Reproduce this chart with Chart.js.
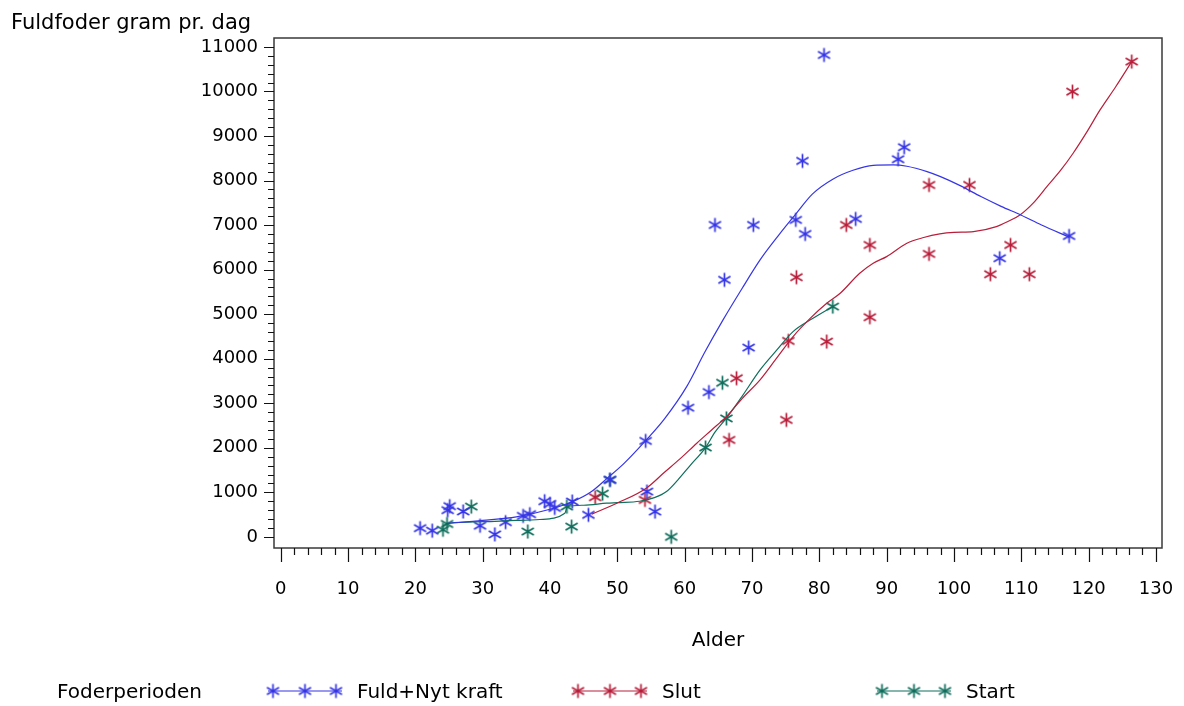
<!DOCTYPE html>
<html>
<head>
<meta charset="utf-8">
<title>Fuldfoder gram pr. dag</title>
<script src="https://cdn.jsdelivr.net/npm/chart.js"></script>
<style>
  body { margin: 0; background: #fff; }
  #wrap { width: 1184px; height: 706px; }
</style>
</head>
<body>
<div id="wrap"><canvas id="chart" width="1184" height="706"></canvas></div>
<script>
// observed points (alder, gram/dag)
const fuldX = [20.7, 22.5, 24.8, 25.1, 27.1, 29.6, 31.8, 33.4, 36.0, 37.0, 39.2, 40.0, 40.7, 43.3, 45.7, 48.9, 54.4, 55.6, 54.2, 60.5, 63.6, 64.5, 65.9, 69.5, 70.2, 76.5, 77.5, 77.9, 80.7, 85.4, 91.7, 92.6, 106.8, 117.1];
const fuldY = [195, 140, 600, 690, 570, 250, 55, 330, 470, 510, 800, 740, 650, 793, 494, 1280, 1017, 568, 2155, 2900, 3250, 7003, 5770, 4250, 7003, 7116, 8440, 6800, 10819, 7138, 8478, 8748, 6256, 6756];

const slutX = [46.7, 54.1, 66.6, 67.7, 75.1, 75.4, 76.6, 81.1, 84.0, 87.5, 87.5, 96.3, 96.3, 102.3, 105.4, 108.4, 111.2, 117.6, 126.4];
const slutY = [890, 830, 2177, 3562, 2626, 4400, 5829, 4384, 7003, 6554, 4931, 7901, 6352, 7901, 5896, 6554, 5896, 9996, 10670];

const startX = [24.1, 24.7, 28.3, 36.7, 42.5, 43.2, 47.8, 48.9, 58.0, 63.1, 65.6, 66.2, 82.0];
const startY = [160, 290, 680, 120, 680, 230, 970, 1280, 0, 2005, 3460, 2660, 5170];

// smoothed curves
const fuldCurveX = [24.6, 30, 35, 40, 43.4, 46, 48.6, 51, 54.3, 57, 60.3, 63, 65.7, 68.5, 71.2, 74, 76.4, 79, 82, 85, 88, 91, 93, 96, 98, 101, 104, 107, 110, 113, 117.1];
const fuldCurveY = [300, 370, 450, 620, 793, 1000, 1330, 1650, 2177, 2650, 3374, 4150, 4871, 5570, 6218, 6780, 7228, 7700, 8030, 8230, 8340, 8350, 8320, 8200, 8088, 7880, 7640, 7420, 7220, 7000, 6730];

const slutCurveX = [46.2, 50, 54.3, 57, 59.3, 61.8, 64, 66.2, 68.5, 71.2, 73.6, 76.1, 78.6, 81.1, 83.1, 86, 88, 90, 93, 95.5, 97.9, 100, 102.9, 106.3, 108, 109.8, 111.8, 113.8, 115.8, 117.7, 119.7, 121.7, 124, 126.4];
const slutCurveY = [510, 760, 1093, 1450, 1750, 2103, 2400, 2700, 3100, 3524, 4000, 4496, 4900, 5245, 5470, 5919, 6144, 6292, 6592, 6720, 6801, 6835, 6853, 6965, 7080, 7228, 7500, 7863, 8220, 8613, 9080, 9585, 10100, 10670];

const startCurveX = [24.1, 25.1, 30, 35, 38.5, 42.2, 42.6, 45, 48.4, 50, 53.3, 55.5, 57.3, 59, 60.8, 63.1, 64.5, 66.2, 68.5, 71.2, 73.6, 76.1, 79, 82];
const startCurveY = [250, 307, 340, 370, 390, 530, 680, 710, 756, 770, 800, 880, 1017, 1280, 1600, 2005, 2350, 2664, 3150, 3749, 4180, 4608, 4900, 5170];

const xTicks = [0, 10, 20, 30, 40, 50, 60, 70, 80, 90, 100, 110, 120, 130];
const yTicks = [0, 1000, 2000, 3000, 4000, 5000, 6000, 7000, 8000, 9000, 10000, 11000];

const groups = ['Fuld+Nyt kraft', 'Slut', 'Start'];
const colors = ['#3535e6', '#b81e3a', '#0f6e5c'];

const FONT = 'DejaVu Sans';

function pairs(xs, ys) {
    return xs.map((x, i) => ({ x: x, y: ys[i] }));
}

// SAS style asterisk marker
function makeStar(color) {
    const c = document.createElement('canvas');
    c.width = 17;
    c.height = 17;
    const g = c.getContext('2d');
    g.strokeStyle = color;
    g.lineWidth = 1.7;
    g.beginPath();
    [90, 30, -30].forEach(function(a) {
        const r = 7, rad = a * Math.PI / 180;
        g.moveTo(8.5 + r * Math.cos(rad), 8.5 - r * Math.sin(rad));
        g.lineTo(8.5 - r * Math.cos(rad), 8.5 + r * Math.sin(rad));
    });
    g.stroke();
    return c;
}
const stars = colors.map(makeStar);

function pointSet(label, xs, ys, i) {
    return {
        label: label,
        data: pairs(xs, ys),
        showLine: false,
        pointStyle: stars[i],
        pointRadius: 8,
        borderColor: colors[i],
        backgroundColor: colors[i]
    };
}

function curveSet(label, xs, ys, i) {
    return {
        label: label,
        data: pairs(xs, ys),
        showLine: true,
        pointRadius: 0,
        borderColor: colors[i],
        borderWidth: 1.2,
        cubicInterpolationMode: 'monotone',
        fill: false
    };
}

// frame, minor ticks, y title and legend
const decor = {
    id: 'decor',
    afterDraw(chart) {
        const ctx = chart.ctx;
        const a = chart.chartArea;
        const xs = chart.scales.x, ys = chart.scales.y;
        ctx.save();
        ctx.strokeStyle = '#3a3a3a';
        ctx.lineWidth = 1.5;
        ctx.strokeRect(a.left, a.top, a.right - a.left, a.bottom - a.top);

        ctx.lineWidth = 1.2;
        ctx.strokeStyle = '#111';
        ctx.beginPath();
        for (let v = 0; v <= 130; v += 2) {
            const px = Math.round(xs.getPixelForValue(v)) + 0.5;
            const len = v % 10 === 0 ? 14 : 7;
            ctx.moveTo(px, a.bottom);
            ctx.lineTo(px, a.bottom + len);
        }
        for (let v = 0; v <= 11000; v += 200) {
            const py = Math.round(ys.getPixelForValue(v)) + 0.5;
            const len = v % 1000 === 0 ? 10 : 6;
            ctx.moveTo(a.left, py);
            ctx.lineTo(a.left - len, py);
        }
        ctx.stroke();

        ctx.fillStyle = '#000';
        ctx.textBaseline = 'alphabetic';
        ctx.textAlign = 'left';
        ctx.font = '21px "' + FONT + '"';
        ctx.fillText('Fuldfoder gram pr. dag', 11, 29);

        // legend
        ctx.font = '20px "' + FONT + '"';
        const ly = 691;
        ctx.fillText('Foderperioden', 57, ly + 7);
        const starts = [268, 573, 877];
        groups.forEach(function(name, i) {
            const x0 = starts[i];
            ctx.strokeStyle = colors[i];
            ctx.lineWidth = 1.2;
            ctx.beginPath();
            ctx.moveTo(x0, ly);
            ctx.lineTo(x0 + 74, ly);
            ctx.stroke();
            [5, 37, 68].forEach(function(dx) {
                ctx.drawImage(stars[i], x0 + dx - 8.5, ly - 8.5);
            });
            ctx.fillStyle = '#000';
            ctx.fillText(name, x0 + 89, ly + 7);
        });
        ctx.restore();
    }
};

const chart = new Chart(document.getElementById('chart'), {
    type: 'scatter',
    data: {
        datasets: [
            curveSet('Fuld+Nyt kraft kurve', fuldCurveX, fuldCurveY, 0),
            curveSet('Slut kurve', slutCurveX, slutCurveY, 1),
            curveSet('Start kurve', startCurveX, startCurveY, 2),
            pointSet(groups[0], fuldX, fuldY, 0),
            pointSet(groups[1], slutX, slutY, 1),
            pointSet(groups[2], startX, startY, 2)
        ]
    },
    options: {
        responsive: false,
        animation: false,
        events: [],
        layout: { padding: { top: 38, right: 22, left: 0, bottom: 0 } },
        plugins: {
            legend: { display: false },
            tooltip: { enabled: false }
        },
        scales: {
            x: {
                type: 'linear',
                min: -1,
                max: 130.9,
                afterFit: function(s) {
                    s.height = 158;
                    s.paddingLeft = 0;
                    s.paddingRight = 0;
                },
                afterBuildTicks: function(s) { s.ticks = xTicks.map(v => ({ value: v })); },
                grid: { display: false },
                border: { display: false },
                ticks: {
                    padding: 23,
                    maxRotation: 0,
                    autoSkip: false,
                    color: '#000',
                    font: { family: FONT, size: 18 },
                    callback: v => String(v)
                },
                title: {
                    display: true,
                    text: 'Alder',
                    color: '#000',
                    font: { family: FONT, size: 20 },
                    padding: { top: 0, bottom: 53 }
                }
            },
            y: {
                type: 'linear',
                min: -250,
                max: 11200,
                afterFit: function(s) {
                    s.width = 274;
                    s.paddingTop = 0;
                    s.paddingBottom = 0;
                },
                afterBuildTicks: function(s) { s.ticks = yTicks.map(v => ({ value: v })); },
                grid: { display: false },
                border: { display: false },
                ticks: {
                    padding: 8,
                    autoSkip: false,
                    color: '#000',
                    font: { family: FONT, size: 18 },
                    callback: v => String(v)
                }
            }
        }
    },
    plugins: [decor]
});
</script>
</body>
</html>
